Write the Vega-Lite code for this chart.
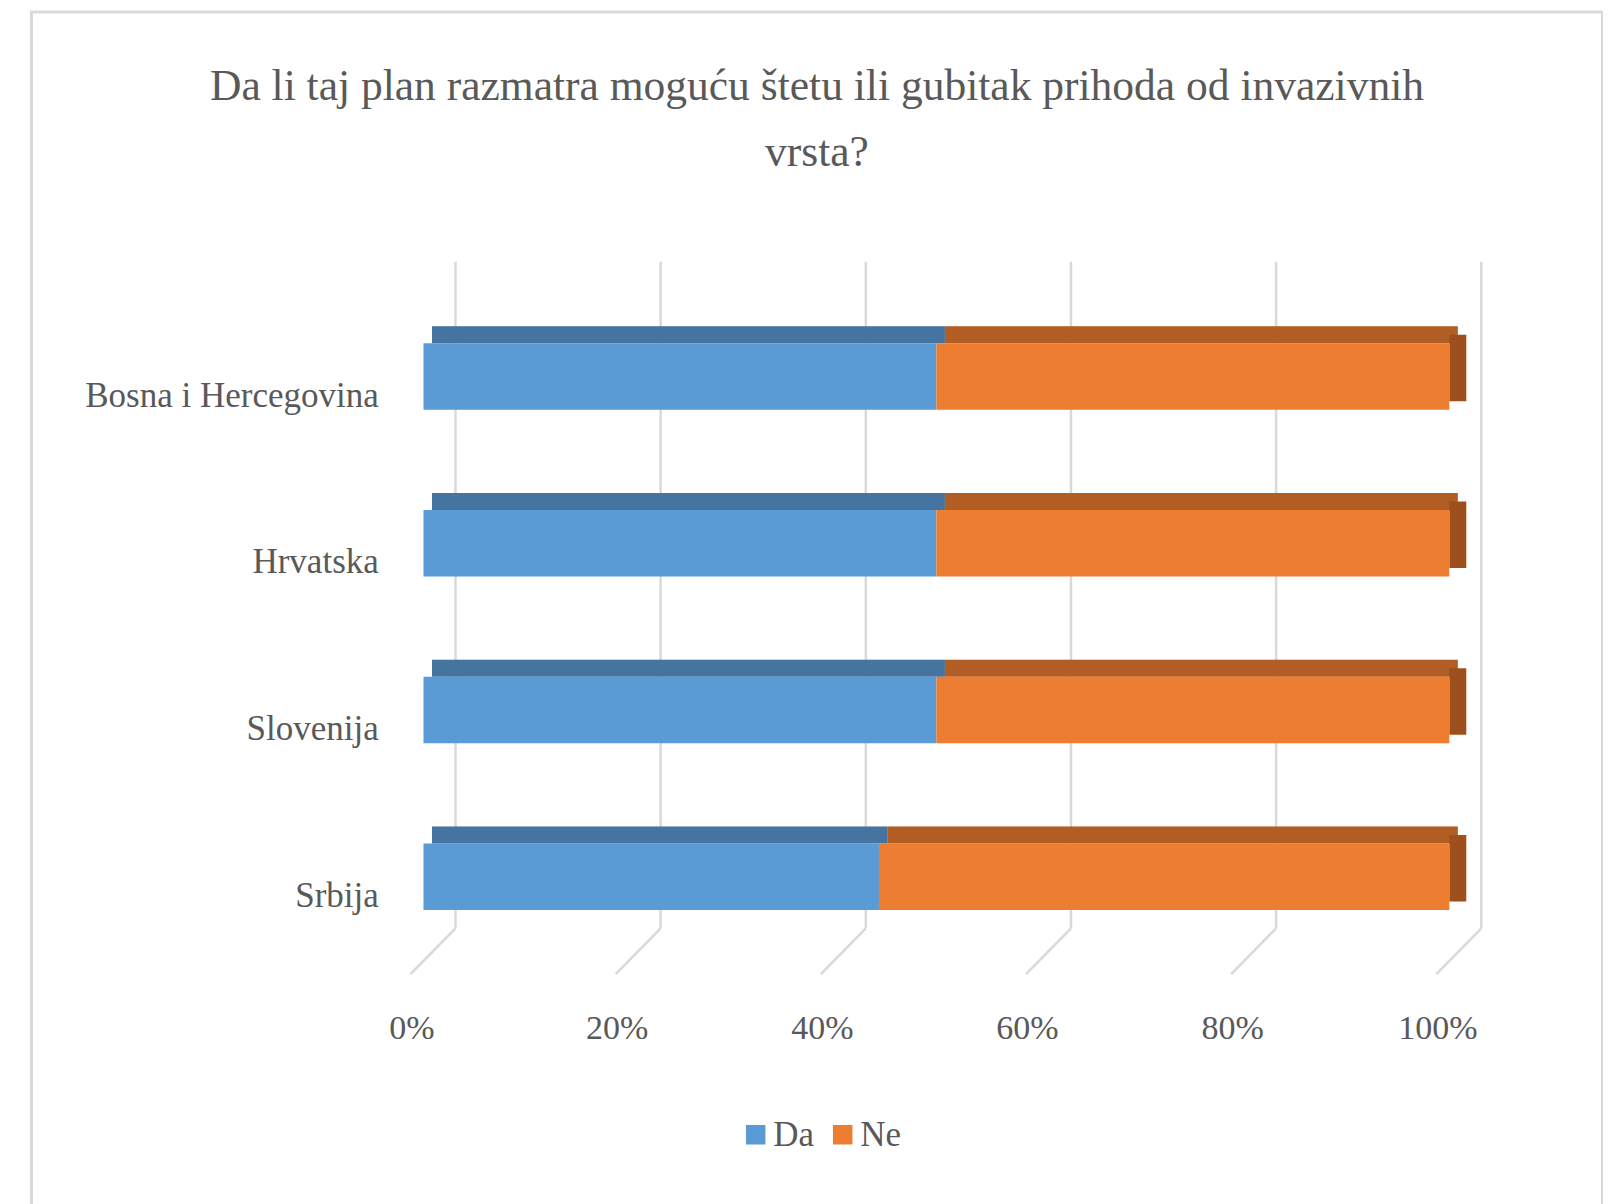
{
  "$schema": "https://vega.github.io/schema/vega-lite/v6.json",
  "width": 1571,
  "height": 1200,
  "autosize": {"type": "none"},
  "padding": {"left": 31.5, "top": 12, "right": 0, "bottom": 0},
  "background": "white",
  "config": {
    "font": "Liberation Serif",
    "view": {"stroke": "#d9d9d9", "strokeWidth": 3}
  },
  "title": {
    "text": ["Da li taj plan razmatra moguću štetu ili gubitak prihoda od invazivnih", "vrsta?"],
    "anchor": "middle",
    "frame": "group",
    "fontSize": 43.5,
    "fontWeight": "normal",
    "lineHeight": 66,
    "color": "#595959",
    "offset": -163
  },
  "datasets": {
    "answers": [
      {"country": "Bosna i Hercegovina", "answer": "Da", "value": 0.5},
      {"country": "Bosna i Hercegovina", "answer": "Ne", "value": 0.5},
      {"country": "Hrvatska", "answer": "Da", "value": 0.5},
      {"country": "Hrvatska", "answer": "Ne", "value": 0.5},
      {"country": "Slovenija", "answer": "Da", "value": 0.5},
      {"country": "Slovenija", "answer": "Ne", "value": 0.5},
      {"country": "Srbija", "answer": "Da", "value": 0.444},
      {"country": "Srbija", "answer": "Ne", "value": 0.556}
    ],
    "grid": [{"v": 0}, {"v": 0.2}, {"v": 0.4}, {"v": 0.6}, {"v": 0.8}, {"v": 1}]
  },
  "layer": [
    {
      "data": {"name": "grid"},
      "mark": {"type": "rule", "color": "#d9d9d9", "strokeWidth": 2.5, "yOffset": -114.85, "y2Offset": 51.7},
      "encoding": {
        "x": {"field": "v", "type": "quantitative"},
        "y": {"datum": "Bosna i Hercegovina", "type": "nominal"},
        "y2": {"datum": "Srbija"}
      }
    },
    {
      "data": {"name": "grid"},
      "mark": {"type": "rule", "color": "#d9d9d9", "strokeWidth": 2.5, "x2Offset": -45, "yOffset": 51.7, "y2Offset": 97.4},
      "encoding": {
        "x": {"field": "v", "type": "quantitative"},
        "x2": {"field": "v"},
        "y": {"datum": "Srbija", "type": "nominal"},
        "y2": {"datum": "Srbija"}
      }
    },
    {
      "data": {"name": "answers"},
      "mark": {"type": "bar", "size": 17, "yOffset": -41.75, "xOffset": -23.5, "x2Offset": -23.5},
      "encoding": {
        "y": {"field": "country", "type": "nominal"},
        "x": {"field": "value", "type": "quantitative", "stack": "normalize"},
        "color": {"field": "answer", "type": "nominal"}
      }
    },
    {
      "data": {"name": "answers"},
      "mark": {"type": "bar", "size": 17, "yOffset": -41.75, "xOffset": -23.5, "x2Offset": -23.5, "color": "black", "opacity": 0.25},
      "encoding": {
        "y": {"field": "country", "type": "nominal"},
        "x": {"field": "value", "type": "quantitative", "stack": "normalize"},
        "detail": {"field": "answer", "type": "nominal"}
      }
    },
    {
      "data": {"name": "answers"},
      "transform": [{"filter": "datum.answer == 'Ne'"}],
      "mark": {"type": "bar", "color": "#9d501d", "xOffset": -32, "x2Offset": -15, "yOffset": -8.5},
      "encoding": {
        "y": {"field": "country", "type": "nominal"},
        "x": {"datum": 1, "type": "quantitative"},
        "x2": {"datum": 1}
      }
    },
    {
      "data": {"name": "answers"},
      "mark": {"type": "bar", "xOffset": -32, "x2Offset": -32},
      "encoding": {
        "y": {
          "field": "country", "type": "nominal",
          "scale": {
            "domain": ["Bosna i Hercegovina", "Hrvatska", "Slovenija", "Srbija"],
            "range": [249.7, 916.3],
            "paddingInner": 0.601, "paddingOuter": 0.3, "align": 0.816
          },
          "axis": {
            "title": null, "grid": false, "domain": false, "ticks": false, "tickSize": 0,
            "offset": -356.8, "labelPadding": 10, "labelLimit": 0,
            "labelFontSize": 35, "labelColor": "#595959", "labelAlign": "right",
            "labelBaseline": "alphabetic", "labelOffset": 30
          }
        },
        "x": {
          "field": "value", "type": "quantitative", "stack": "normalize",
          "scale": {"domain": [0, 1], "range": [424, 1449.8], "nice": false, "zero": false},
          "axis": {
            "title": null, "values": [0, 0.2, 0.4, 0.6, 0.8, 1], "format": ".0%",
            "grid": false,
            "domain": false, "ticks": false, "tickSize": 0,
            "offset": -283.7, "labelPadding": 110, "labelBaseline": "alphabetic",
            "labelOffset": -44, "labelFontSize": 34, "labelColor": "#595959",
            "labelFlush": false
          }
        },
        "color": {
          "field": "answer", "type": "nominal",
          "scale": {"domain": ["Da", "Ne"], "range": ["#5b9bd5", "#ed7d31"]},
          "legend": {
            "title": null, "orient": "none", "legendX": 706.7, "legendY": 1105,
            "direction": "horizontal", "symbolType": "square", "symbolSize": 380,
            "symbolStrokeWidth": 0, "labelFontSize": 35, "labelColor": "#595959",
            "columnPadding": 11, "labelOffset": 0, "padding": 0
          }
        }
      }
    }
  ]
}
